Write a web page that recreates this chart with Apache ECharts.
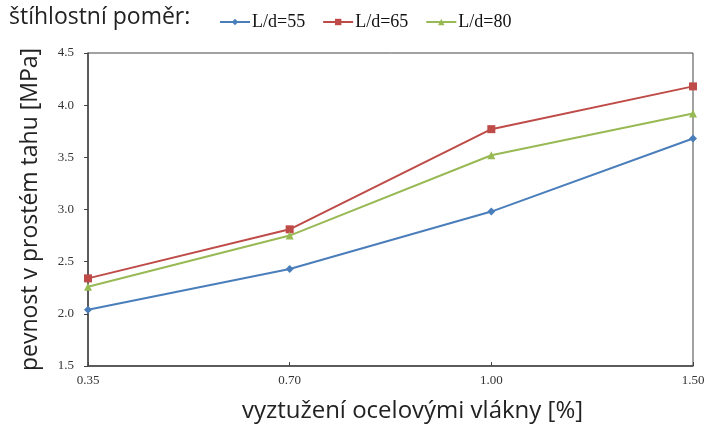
<!DOCTYPE html>
<html>
<head>
<meta charset="utf-8">
<script src="https://cdn.jsdelivr.net/npm/echarts@6/dist/echarts.min.js"></script>
<style>
  html, body { margin: 0; padding: 0; background: #fff; }
  #chart { width: 707px; height: 425px; }
</style>
</head>
<body>
<div id="chart"></div>
<script>
// fibre content categories
const categories = ['0.35', '0.70', '1.00', '1.50'];
const ld55 = [2.04, 2.43, 2.98, 3.68];
const ld65 = [2.34, 2.81, 3.77, 4.18];
const ld80 = [2.26, 2.75, 3.52, 3.92];
const yTicks = { min: 1.5, max: 4.5, interval: 0.5 };

const myChart = echarts.init(document.getElementById('chart'));

const serif = '"Liberation Serif", "DejaVu Serif", serif';
const sans = '"Open Sans", Lato, sans-serif';

function line(name, data, color, symbol, size) {
  return {
    name: name,
    type: 'line',
    data: data,
    symbol: symbol,
    symbolSize: size,
    itemStyle: { color: color },
    lineStyle: { color: color, width: 2 },
  };
}

const option = {
  backgroundColor: '#fff',
  animation: false,
  title: {
    text: 'štíhlostní poměr:',
    left: 4,
    top: 1,
    textStyle: { fontFamily: sans, fontSize: 23, fontWeight: 'normal', color: '#222' },
  },
  legend: {
    left: 214,
    top: 8,
    itemWidth: 30,
    itemHeight: 8,
    itemGap: 17,
    textStyle: { fontFamily: serif, fontSize: 18, color: '#111', padding: [0, 0, 0, -3] },
    data: ['L/d=55', 'L/d=65', 'L/d=80'],
  },
  grid: {
    left: 88,
    right: 14,
    top: 53,
    bottom: 59,
    outerBoundsMode: 'none',
    show: true,
    borderColor: '#444',
    borderWidth: 1,
  },
  xAxis: {
    type: 'category',
    data: categories,
    boundaryGap: false,
    name: 'vyztužení ocelovými vlákny [%]',
    nameLocation: 'middle',
    nameGap: 33,
    nameTextStyle: { fontFamily: sans, fontSize: 24, color: '#222', padding: [0, 0, 0, 44] },
    axisLine: { lineStyle: { color: '#444', width: 1.5 } },
    axisTick: { inside: true, length: 4, lineStyle: { color: '#444' } },
    axisLabel: { fontFamily: serif, fontSize: 13, color: '#333', margin: 8 },
  },
  yAxis: {
    type: 'value',
    min: yTicks.min,
    max: yTicks.max,
    interval: yTicks.interval,
    name: 'pevnost v prostém tahu [MPa]',
    nameLocation: 'middle',
    nameGap: 46,
    nameTextStyle: { fontFamily: sans, fontSize: 23, color: '#222' },
    axisLine: { show: true, lineStyle: { color: '#444', width: 1.5 } },
    axisTick: { show: true, length: 4, lineStyle: { color: '#444' } },
    splitLine: { show: false },
    axisLabel: {
      fontFamily: serif, fontSize: 13, color: '#333', margin: 14,
      formatter: (v) => v.toFixed(1),
    },
  },
  series: [
    line('L/d=55', ld55, '#4a7ebb', 'diamond', 8),
    line('L/d=65', ld65, '#be4b48', 'rect', 8),
    line('L/d=80', ld80, '#98b954', 'triangle', 8),
  ],
};

myChart.setOption(option);
</script>
</body>
</html>
